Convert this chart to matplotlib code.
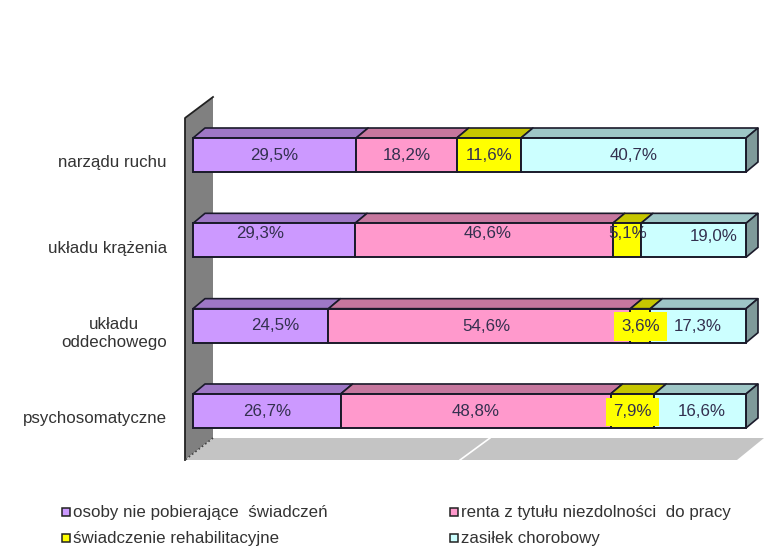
import matplotlib
matplotlib.use('Agg')
import matplotlib.pyplot as plt
from matplotlib.patches import Polygon, Rectangle

categories = ['narządu ruchu', 'układu krążenia', 'układu\noddechowego', 'psychosomatyczne']
series_names = ['osoby nie pobierające  świadczeń', 'renta z tytułu niezdolności  do pracy',
                'świadczenie rehabilitacyjne', 'zasiłek chorobowy']
nie_pobierajace = [29.5, 29.3, 24.5, 26.7]
renta = [18.2, 46.6, 54.6, 48.8]
rehabilitacyjne = [11.6, 5.1, 3.6, 7.9]
zasilek = [40.7, 19.0, 17.3, 16.6]

front_colors = ['#cc99ff', '#ff99cc', '#ffff00', '#ccffff']
top_colors = ['#9e77c6', '#c6779e', '#c6c600', '#9ec6c6']
text_color = '#33304f'

# pixel nudges of the value labels, the original has them dragged around
nudges = {(1, 0): (-14, -8), (1, 1): (4, -8), (1, 2): (1, -8), (1, 3): (20, -5),
          (2, 0): (15, -1), (2, 1): (7, 0), (3, 3): (2, 0)}
yellow_boxes = [(2, 2), (3, 2)]

X0, PX_X = 193, 5.53   # pixel of 0 %, pixels per 1 %
Y0, PX_Y = 155, 85.33  # pixel of first bar centre, pixels per category
W, H = 780, 556
BAR = 17 / PX_Y
DX, DY = 12 / PX_X, 10 / PX_Y
FONT = 12.2


def px(x, y):
    return (x - X0) / PX_X, (y - Y0) / PX_Y


plt.rcParams['font.family'] = ['Liberation Sans', 'DejaVu Sans']
fig = plt.figure(figsize=(W / 100, H / 100), dpi=100)
ax = fig.add_axes([0, 0, 1, 1])
ax.set_xlim(px(0, 0)[0], px(W, 0)[0])
ax.set_ylim(px(0, H)[1], px(0, 0)[1])
ax.axis('off')

# wall and floor
ax.add_patch(Polygon([px(185, 118), px(213, 97), px(213, 438), px(185, 460)], fc='#808080', ec='none'))
ax.plot(*zip(px(185, 460), px(185, 118), px(213, 97)), color='#222222', lw=1.3)
ax.add_patch(Polygon([px(213, 438), px(764, 438), px(737, 460), px(185, 460)], fc='#c4c4c4', ec='none'))
ax.plot(*zip(px(490, 438), px(460, 460)), color='white', lw=1.2)
ax.plot(*zip(px(213, 438), px(185, 460)), color='#444444', lw=1.2, ls=(0, (1, 1.5)))

series = [nie_pobierajace, renta, rehabilitacyjne, zasilek]
for i, cat in enumerate(categories):
    left = 0
    for j, vals in enumerate(series):
        v = vals[i]
        t, b = i - BAR, i + BAR
        ax.add_patch(Polygon([(left, t), (left + DX, t - DY), (left + v + DX, t - DY), (left + v, t)],
                             fc=top_colors[j], ec='#1a1a2a', lw=1.2, joinstyle='round', zorder=3))
        ax.add_patch(Rectangle((left, t), v, b - t, fc=front_colors[j], ec='#1a1a2a', lw=1.4, zorder=4))
        if j == 3:
            ax.add_patch(Polygon([(left + v, t), (left + v + DX, t - DY), (left + v + DX, b - DY), (left + v, b)],
                                 fc='#7f9a9a', ec='#1a1a2a', lw=1.2, zorder=3))
        nx, ny = nudges.get((i, j), (0, 0))
        box = None
        if (i, j) in yellow_boxes:
            box = dict(fc='#ffff00', ec='none', pad=5)
        ax.text(left + v / 2 + nx / PX_X, i + (ny + 1) / PX_Y, f'{v:.1f}%'.replace('.', ','),
                ha='center', va='center', fontsize=FONT, color=text_color, bbox=box, zorder=5)
        left += v
    ax.text(px(167, 0)[0], i + 8 / PX_Y, cat, ha='right', va='center', fontsize=FONT, color='#333333',
            multialignment='center', linespacing=1.3)

# legend
legend_pos = [(62, 512), (450, 512), (62, 538), (450, 538)]
for j, name in enumerate(series_names):
    lx, ly = legend_pos[j]
    x, y = px(lx, ly - 4)
    ax.add_patch(Rectangle((x, y), 8 / PX_X, 8 / PX_Y, fc=front_colors[j], ec='#222222', lw=1.1))
    ax.text(px(lx + 11, 0)[0], px(0, ly)[1], name, ha='left', va='center', fontsize=FONT, color='#333333')

fig.savefig('out.png', dpi=100, facecolor='white')
